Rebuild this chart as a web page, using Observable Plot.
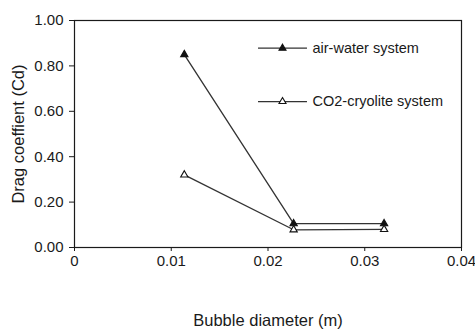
<!DOCTYPE html>
<html><head><meta charset="utf-8">
<script src="https://cdn.jsdelivr.net/npm/d3@7"></script>
<script src="https://cdn.jsdelivr.net/npm/@observablehq/plot@0.6"></script>
<style>
body{margin:0;background:#fff;}
svg{font-family:"Liberation Sans",Arial,sans-serif;}
</style>
</head><body>
<div id="chart"></div>
<script>
const diameters = [0.01135, 0.02265, 0.0320];
const airWater = [0.85, 0.105, 0.105];
const co2Cryolite = [0.32, 0.078, 0.080];
const seriesNames = ["air-water system", "CO2-cryolite system"];
const xTicks = [0, 0.01, 0.02, 0.03, 0.04];
const yTicks = [0, 0.2, 0.4, 0.6, 0.8, 1.0];

const rows = [];
diameters.forEach((d, i) => {
  rows.push({series: seriesNames[0], x: d, y: airWater[i]});
  rows.push({series: seriesNames[1], x: d, y: co2Cryolite[i]});
});
const legend = [
  {series: seriesNames[0], y: 0.878, fill: "#111"},
  {series: seriesNames[1], y: 0.643, fill: "white"}
];
const ink = "#1a1a1a";

const chart = Plot.plot({
  width: 475, height: 329,
  marginLeft: 74, marginRight: 14, marginTop: 20, marginBottom: 82,
  style: {fontSize: "15px", color: ink, background: "white"},
  x: {domain: [0, 0.04], ticks: xTicks, tickFormat: d => d === 0 ? "0" : d3.format(".2f")(d),
      label: "Bubble diameter (m)", labelAnchor: "center", labelArrow: "none", labelOffset: 78,
      tickSize: 4, tickPadding: 4},
  y: {domain: [0, 1], ticks: yTicks, tickFormat: d3.format(".2f"),
      label: "Drag coeffient (Cd)", labelAnchor: "center", labelArrow: "none", labelOffset: 62,
      tickSize: 5, tickPadding: 6},
  marks: [
    Plot.frame({stroke: ink, strokeWidth: 1.2}),
    Plot.line(rows, {x: "x", y: "y", z: "series", stroke: "#333", strokeWidth: 1.3}),
    Plot.dot(rows, {x: "x", y: "y", symbol: "triangle", r: 2.7, stroke: "#111", strokeWidth: 1.1,
      fill: d => d.series === seriesNames[0] ? "#111" : "white"}),
    Plot.ruleY(legend, {y: "y", x1: 0.01902, x2: 0.02408, stroke: "#333", strokeWidth: 1.3}),
    Plot.dot(legend, {x: 0.0215, y: "y", symbol: "triangle", r: 2.6, stroke: "#111", strokeWidth: 1.1, fill: "fill"}),
    Plot.text(legend, {x: 0.0246, y: "y", text: "series", textAnchor: "start", fontSize: 14.5, fill: ink})
  ]
});
document.getElementById("chart").appendChild(chart);
// enlarge axis labels
chart.querySelectorAll("[aria-label='x-axis label'] text, [aria-label='y-axis label'] text").forEach(t => t.setAttribute("font-size", "16.5"));
</script>
</body></html>
